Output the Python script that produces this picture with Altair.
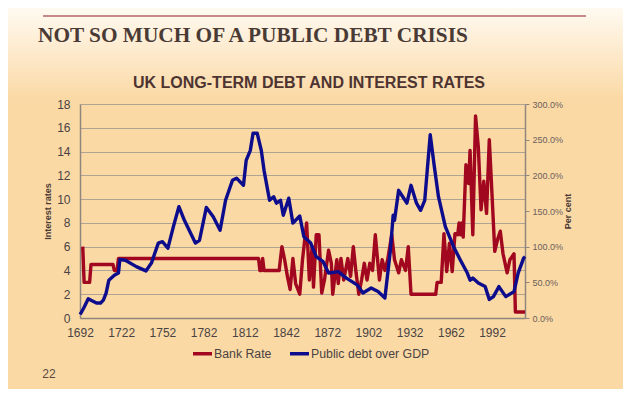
import altair as alt
import pandas as pd

# ---- data ----
bank_years = [1694, 1695, 1699, 1700, 1716, 1717, 1719, 1720, 1822, 1823, 1824, 1825, 1826,
              1837, 1838, 1839, 1841, 1843, 1845, 1847, 1849, 1852, 1854, 1857, 1859, 1861,
              1862, 1864, 1866, 1868, 1870, 1873, 1875, 1876, 1879, 1880, 1882, 1884, 1887,
              1889, 1891, 1893, 1895, 1897, 1899, 1901, 1903, 1905, 1907, 1910, 1912, 1914,
              1916, 1919, 1921, 1924, 1926, 1929, 1931, 1933, 1951, 1952, 1955, 1957, 1959,
              1961, 1963, 1965, 1967, 1968, 1969, 1970, 1971, 1973, 1975, 1976, 1978, 1980,
              1982, 1984, 1986, 1988, 1990, 1991, 1994, 1996, 1998, 2000, 2003, 2005, 2008,
              2009, 2016]
bank_rate = [6.0, 3.0, 3.0, 4.5, 4.5, 4.0, 4.0, 5.0, 5.0, 4.0, 4.0, 5.0, 4.0,
             4.0, 5.0, 6.0, 4.9, 3.5, 2.4, 5.0, 2.9, 2.0, 4.9, 8.0, 3.2, 6.0,
             2.6, 7.0, 7.0, 2.1, 3.2, 5.7, 4.6, 2.0, 4.9, 2.9, 5.0, 3.2, 5.0,
             3.5, 6.0, 3.8, 2.0, 3.2, 4.6, 3.2, 4.6, 4.0, 7.0, 3.2, 4.9, 4.0,
             4.9, 7.0, 4.9, 3.8, 4.9, 4.0, 6.0, 2.0, 2.0, 3.0, 3.0, 7.1, 3.9,
             6.3, 3.9, 7.1, 7.0, 8.0, 7.0, 8.0, 6.8, 12.9, 11.3, 14.1, 7.0, 17.0,
             14.4, 9.1, 11.5, 8.8, 15.0, 12.7, 5.6, 6.6, 7.3, 5.4, 3.8, 4.9, 5.4,
             0.5, 0.5]

debt_years = [1692, 1693, 1695, 1698, 1700, 1704, 1707, 1709, 1711, 1713, 1717, 1720, 1721,
              1725, 1733, 1740, 1744, 1749, 1752, 1756, 1760, 1764, 1768, 1776, 1779, 1784,
              1789, 1794, 1798, 1801, 1803, 1806, 1811, 1813, 1816, 1818, 1821, 1824, 1826,
              1830, 1833, 1835, 1838, 1840, 1844, 1847, 1852, 1855, 1860, 1864, 1869, 1873,
              1880, 1886, 1894, 1898, 1904, 1909, 1914, 1918, 1920, 1921, 1924, 1927, 1930,
              1933, 1937, 1940, 1943, 1947, 1950, 1953, 1958, 1964, 1969, 1974, 1976, 1978,
              1982, 1987, 1990, 1993, 1997, 2002, 2008, 2011, 2015, 2016]
debt_gdp = [5, 8, 15, 27, 25, 21, 21, 25, 35, 53, 60, 63, 82,
            81, 72, 66, 77, 105, 107, 98, 128, 156, 137, 105, 109, 155,
            142, 123, 165, 182, 193, 196, 186, 221, 235, 259, 259, 235, 207,
            165, 170, 161, 165, 144, 168, 133, 143, 114, 105, 86, 79, 63,
            65, 56, 46, 35, 42, 37, 28, 95, 144, 137, 179, 170, 161,
            186, 161, 151, 165, 257, 212, 170, 128, 100, 81, 63, 53, 56,
            49, 44, 26, 30, 44, 30, 37, 63, 84, 86]

series_names = ["Bank Rate", "Public debt over GDP"]
series_colors = ["#A1071F", "#0C0C8C"]
x_ticks = [1692, 1722, 1752, 1782, 1812, 1842, 1872, 1902, 1932, 1962, 1992]
left_ticks = [0, 2, 4, 6, 8, 10, 12, 14, 16, 18]
right_ticks = [0, 50, 100, 150, 200, 250, 300]

main_title = "NOT SO MUCH OF A PUBLIC DEBT CRISIS"
chart_title = "UK LONG-TERM DEBT AND INTEREST RATES"
page_number = "22"

bank_df = pd.DataFrame({"year": bank_years, "value": bank_rate, "series": series_names[0]})
debt_df = pd.DataFrame({"year": debt_years, "value": debt_gdp, "series": series_names[1]})
one = pd.DataFrame({"a": [0]})

BG = "#FBD9A5"
AXIS_GREY = "#8F877D"
LABEL = "#4A4343"

x_enc = alt.X("year:Q", scale=alt.Scale(domain=[1692, 2016], nice=False, zero=False),
              axis=alt.Axis(values=x_ticks, format="d", title=None, grid=False, ticks=False,
                            domainColor=AXIS_GREY, domainWidth=1.5, labelFontSize=12,
                            labelColor=LABEL, labelPadding=9, labelFont="Liberation Sans",
                            labelOverlap=False, labelFlush=False))

color_enc = alt.Color("series:N",
                      scale=alt.Scale(domain=series_names, range=series_colors),
                      legend=alt.Legend(orient="none", legendX=111, legendY=238,
                                        direction="horizontal", title=None,
                                        symbolType="stroke", symbolStrokeWidth=3.5,
                                        symbolSize=361, labelFontSize=12.3, labelColor=LABEL,
                                        labelFont="Liberation Sans", labelOffset=0,
                                        columnPadding=11, padding=0))

bank = alt.Chart(bank_df).mark_line(strokeWidth=3.4, strokeJoin="round").encode(
    x=x_enc,
    y=alt.Y("value:Q", scale=alt.Scale(domain=[0, 18], nice=False),
            axis=alt.Axis(orient="left", values=left_ticks, title="Interest rates",
                          titleFontSize=9, titleFont="Liberation Sans", titleFontWeight="bold",
                          titleColor="#4A3A35", titlePadding=4,
                          labelFontSize=12, labelColor=LABEL, labelFont="Liberation Sans",
                          labelPadding=10, labelFlush=False, ticks=False,
                          domainColor=AXIS_GREY, domainWidth=1.5,
                          grid=True, gridColor="#AFA393", gridWidth=1.2)),
    color=color_enc,
)

debt = alt.Chart(debt_df).mark_line(strokeWidth=3.4, strokeJoin="round").encode(
    x=x_enc,
    y=alt.Y("value:Q", scale=alt.Scale(domain=[0, 300], nice=False),
            axis=alt.Axis(orient="right", values=right_ticks, title="Per cent",
                          labelExpr="format(datum.value, '.1f') + '%'",
                          titleFontSize=9, titleFont="Liberation Sans", titleFontWeight="bold",
                          titleColor="#4A3A35", titlePadding=10, titleAngle=270,
                          labelFontSize=9, labelColor="#6A605A", labelFont="Liberation Sans",
                          labelPadding=3, labelFlush=False, ticks=True, tickSize=4,
                          tickColor=AXIS_GREY, domainColor=AXIS_GREY, domainWidth=1.5,
                          grid=False)),
    color=color_enc,
)

bg = alt.Chart(one).mark_rect(
    color=alt.LinearGradient(gradient="linear", x1=0, x2=0, y1=0, y2=1,
                             stops=[alt.GradientStop(color="#FFFAF1", offset=0),
                                    alt.GradientStop(color=BG, offset=1)])
).encode(x=alt.value(-72), x2=alt.value(543), y=alt.value(-96), y2=alt.value(-5))

top_rule = alt.Chart(one).mark_rule(color="#C68A88", strokeWidth=2).encode(
    x=alt.value(-37), x2=alt.value(506), y=alt.value(-88))

t_main = alt.Chart(one).mark_text(text=main_title, align="left", baseline="middle",
                                  font="Liberation Serif", fontWeight="bold", fontSize=21.3,
                                  color="#4A3A35").encode(x=alt.value(-42), y=alt.value(-68))
t_chart = alt.Chart(one).mark_text(text=chart_title, align="center", baseline="middle",
                                   font="Liberation Sans", fontWeight="bold", fontSize=16,
                                   color="#4E3431").encode(x=alt.value(229), y=alt.value(-21))
t_page = alt.Chart(one).mark_text(text=page_number, align="center", baseline="middle",
                                  font="Liberation Sans", fontSize=12,
                                  color="#5A4A42").encode(x=alt.value(-31), y=alt.value(270))

chart = alt.layer(bg, top_rule, t_main, t_chart, t_page, bank, debt).resolve_scale(
    y="independent"
).properties(
    width=445, height=214,
    autosize=alt.AutoSizeParams(type="none"),
    padding={"left": 72, "top": 96, "right": 98, "bottom": 71},
    background=BG,
).configure_view(stroke=None)

chart.save("out.html", embed_options={"renderer": "svg", "actions": False})
